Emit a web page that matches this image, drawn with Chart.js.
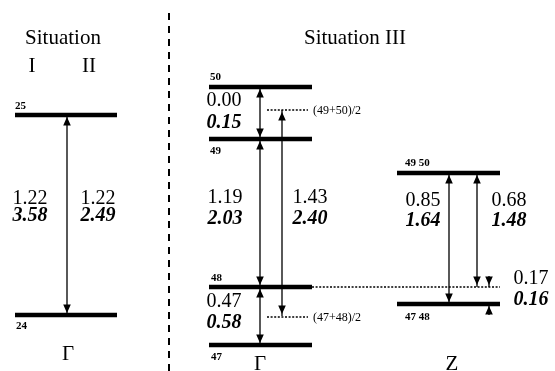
<!DOCTYPE html>
<html>
<head>
<meta charset="utf-8">
<script src="https://cdn.jsdelivr.net/npm/chart.js@4.4.1/dist/chart.umd.min.js"></script>
<style>
  html, body { margin: 0; padding: 0; background: #fff; }
  #wrap { width: 555px; height: 371px; }
</style>
</head>
<body>
<div id="wrap"><canvas id="c" width="555" height="371"></canvas></div>
<script>
// ---------- data (schematic diagram units: x across, y downward) ----------
const levelNames   = ['25', '24', '50', '49', '48', '47', '49 50', '47 48'];
const levelY       = [115, 315, 87, 139, 287, 345, 173, 304];
const levelX0      = [15, 15, 209, 209, 209, 209, 397, 397];
const levelX1      = [117, 117, 312, 312, 312, 312, 500, 500];

// gap values: regular (first method) and bold-italic (second method)
const gapRegular   = ['1.22', '1.22', '0.00', '1.19', '1.43', '0.47', '0.85', '0.68', '0.17'];
const gapBold      = ['3.58', '2.49', '0.15', '2.03', '2.40', '0.58', '1.64', '1.48', '0.16'];

// transitions (arrows): x, y from, y to, heads at start/end
const arrowX       = [67, 260, 260, 260, 282, 449, 477, 489, 489];
const arrowYFrom   = [115, 87, 139, 287, 110, 173, 173, 276, 315];
const arrowYTo     = [315, 139, 287, 345, 316, 304, 287, 287, 304];
const arrowHeadStart = [true, true, true, true, true, true, true, false, false];
const arrowHeadEnd   = [true, true, true, true, true, true, true, true, true];

// dotted reference levels
const dotLabels    = ['(49+50)/2', '(47+48)/2', ''];
const dotY         = [110, 317, 287];
const dotX0        = [267, 267, 312];
const dotX1        = [308, 308, 500];

// section titles / k-points
const titles       = ['Situation', 'I', 'II', 'Situation III'];
const kPoints      = ['Γ', 'Γ', 'Z'];

// ---------- layout of text (positions only) ----------
const levelLabelPos = [[15,106],[16,326],[210,77],[210,151],[211,278],[211,357],[405,163],[405,317]];
const gapPos = [[30,199,216],[98,199,216],[224,101,123],[225,198,219],[310,198,219],[224,302,323],[423,201,221],[509,201,221],[531,279,300]];
const titlePos = [[63,38],[32,66],[89,66],[355,38]];
const kPos = [[68,354],[260,364],[452,364]];

const datasets = [];
for (let i = 0; i < levelY.length; i++) {
  datasets.push({
    data: [{x: levelX0[i], y: levelY[i]}, {x: levelX1[i], y: levelY[i]}],
    borderColor: '#000', borderWidth: 4.5, showLine: true, pointRadius: 0, borderCapStyle: 'butt'
  });
}
for (let i = 0; i < dotY.length; i++) {
  datasets.push({
    data: [{x: dotX0[i], y: dotY[i]}, {x: dotX1[i], y: dotY[i]}],
    borderColor: '#000', borderWidth: 1.6, borderDash: [2, 1.6], showLine: true, pointRadius: 0
  });
}
for (let i = 0; i < arrowX.length; i++) {
  datasets.push({
    data: [{x: arrowX[i], y: arrowYFrom[i]}, {x: arrowX[i], y: arrowYTo[i]}],
    borderColor: '#000', borderWidth: 1.3, showLine: true, pointRadius: 0,
    heads: [arrowHeadStart[i], arrowHeadEnd[i]]
  });
}
// dashed divider between panels
datasets.push({
  data: [{x: 169, y: 13}, {x: 169, y: 371}],
  borderColor: '#000', borderWidth: 2, borderDash: [7, 6], showLine: true, pointRadius: 0
});

const arrowPlugin = {
  id: 'arrows',
  afterDatasetsDraw(chart) {
    const ctx = chart.ctx;
    chart.data.datasets.forEach((ds, di) => {
      if (!ds.heads) return;
      const meta = chart.getDatasetMeta(di);
      const p = meta.data;
      const draw = (tip, from) => {
        const dx = tip.x - from.x, dy = tip.y - from.y;
        const len = Math.hypot(dx, dy) || 1;
        const ux = dx / len, uy = dy / len;
        const inset = 2, L = 8.5, W = 3.8;
        const tx = tip.x - ux * inset, ty = tip.y - uy * inset;
        const bx = tx - ux * L, by = ty - uy * L;
        ctx.beginPath();
        ctx.moveTo(tx, ty);
        ctx.lineTo(bx - uy * W, by + ux * W);
        ctx.lineTo(bx + uy * W, by - ux * W);
        ctx.closePath();
        ctx.fillStyle = '#000';
        ctx.fill();
      };
      if (ds.heads[0]) draw(p[0], p[1]);
      if (ds.heads[1]) draw(p[1], p[0]);
    });
  }
};

const textPlugin = {
  id: 'texts',
  afterDraw(chart) {
    const ctx = chart.ctx;
    const xs = chart.scales.x, ys = chart.scales.y;
    const X = v => xs.getPixelForValue(v), Y = v => ys.getPixelForValue(v);
    ctx.save();
    ctx.fillStyle = '#000';
    ctx.textBaseline = 'middle';
    // titles
    ctx.font = '21px "Liberation Serif"';
    ctx.textAlign = 'center';
    titles.forEach((t, i) => ctx.fillText(t, X(titlePos[i][0]), Y(titlePos[i][1])));
    kPoints.forEach((t, i) => ctx.fillText(t, X(kPos[i][0]), Y(kPos[i][1])));
    // gap values
    gapRegular.forEach((t, i) => {
      ctx.font = '20px "Liberation Serif"';
      ctx.fillText(t, X(gapPos[i][0]), Y(gapPos[i][1]));
      ctx.font = 'italic bold 20px "Liberation Serif"';
      ctx.fillText(gapBold[i], X(gapPos[i][0]), Y(gapPos[i][2]));
    });
    // level labels
    ctx.font = 'bold 11px "Liberation Serif"';
    ctx.textAlign = 'left';
    levelNames.forEach((t, i) => ctx.fillText(t, X(levelLabelPos[i][0]), Y(levelLabelPos[i][1])));
    // dotted level labels
    ctx.font = '12px "Liberation Serif"';
    dotLabels.forEach((t, i) => { if (t) ctx.fillText(t, X(dotX1[i] + 5), Y(dotY[i] + 1)); });
    ctx.restore();
  }
};

new Chart(document.getElementById('c'), {
  type: 'scatter',
  data: { datasets },
  options: {
    responsive: false,
    animation: false,
    layout: { padding: 0 },
    plugins: { legend: { display: false }, tooltip: { enabled: false } },
    scales: {
      x: { type: 'linear', min: 0, max: 555, display: false },
      y: { type: 'linear', min: 0, max: 371, reverse: true, display: false }
    },
    elements: { line: { tension: 0 } }
  },
  plugins: [arrowPlugin, textPlugin]
});
</script>
</body>
</html>
